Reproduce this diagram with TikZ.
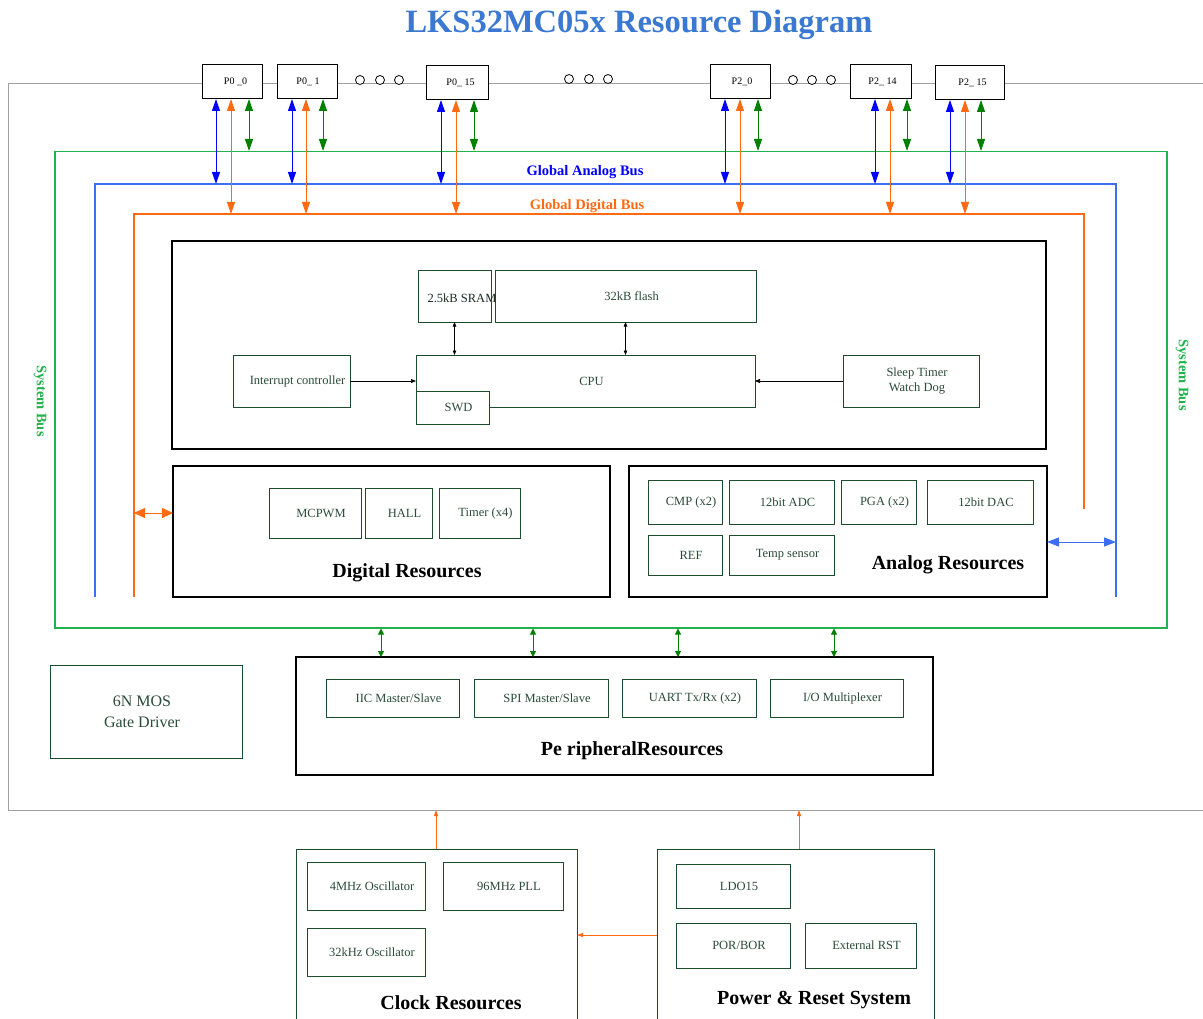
\documentclass[tikz,border=0pt]{standalone}
\usepackage{fontspec}
\setmainfont{Liberation Serif}
\usetikzlibrary{arrows.meta}
\definecolor{sysgreen}{HTML}{22B14C}
\definecolor{abusblue}{HTML}{3B6EF5}
\definecolor{dbusorange}{HTML}{FF6A13}
\definecolor{pinblue}{HTML}{0000FF}
\definecolor{pingreen}{HTML}{008000}
\definecolor{dkgreen}{HTML}{1E4D2E}
\definecolor{txtgreen}{HTML}{2A4B3A}
\definecolor{titleblue}{HTML}{3A78D2}
\definecolor{framegray}{HTML}{A0A0A0}
\newcommand{\bx}[7]{\node[#1,anchor=north west,inner sep=0pt,outer sep=0pt,minimum width={(#4)-(#2)},minimum height={(#5)-(#3)}] (#6) at (#2,#3) {#7};}
\newcommand{\gb}[6]{\bx{gbox}{#1}{#2}{#3}{#4}{#5}{\hspace*{12pt}#6}}
\newcommand{\sh}{\hspace*{12pt}}
\tikzset{
  blk/.style={draw=black,line width=1.5pt},
  gbox/.style={draw=dkgreen,line width=0.9pt,text=txtgreen,fill=white,font=\fontsize{12.5}{14.5}\selectfont,align=center},
  pinbox/.style={draw=black,line width=1pt,fill=white,font=\fontsize{10}{12}\selectfont},
  dotc/.style={circle,draw=black,line width=0.8pt,fill=white,minimum size=9pt,inner sep=0pt},
  biglbl/.style={font=\bfseries\fontsize{20}{22}\selectfont,yshift=-3pt},
  pa/.style={line width=1pt,{Triangle[length=12pt,width=8pt]}-{Triangle[length=12pt,width=8pt]}},
  sa/.style={line width=0.7pt,{Triangle[length=4.5pt,width=3.5pt]}-{Triangle[length=4.5pt,width=3.5pt]}},
  sa1/.style={line width=0.7pt,-{Triangle[length=5pt,width=4pt]}},
  ga/.style={line width=1pt,draw=pingreen,{Triangle[length=6pt,width=6pt]}-{Triangle[length=6pt,width=6pt]}},
  oa/.style={line width=0.9pt,draw=dbusorange,-{Triangle[length=6pt,width=4pt]}},
}
\begin{document}
\begin{tikzpicture}[x=1pt,y=-1pt]
\useasboundingbox (0,0) rectangle (1203,1019);
\clip (0,0) rectangle (1203,1019);
% title
\node[font=\bfseries\fontsize{32.5}{36}\selectfont,text=titleblue] (title) at (639,25) {LKS32MC05x Resource Diagram};
% gray frame
\draw[framegray,line width=1pt] (1210,84) -- (8,84) -- (8,810) -- (1210,810);
\coordinate (fb) at (8,810);
% buses
\node[draw=sysgreen,line width=1.5pt,anchor=north west,inner sep=0pt,minimum width=1112pt,minimum height=476pt] (sysbus) at (54,151) {};
\draw[abusblue,line width=1.5pt] (95,597) -- (95,184) -- (1116,184) -- (1116,597);
\draw[dbusorange,line width=1.5pt] (134,597) -- (134,214) -- (1084,214) -- (1084,509);
\coordinate (gy) at (0,151);
\coordinate (ay) at (0,184);
\coordinate (dy) at (0,214);
\node[font=\bfseries\fontsize{14.5}{16}\selectfont,text=pinblue] (alabel) at (585,172) {Global Analog Bus};
\node[font=\bfseries\fontsize{14.5}{16}\selectfont,text=dbusorange] (dlabel) at (587,206) {Global Digital Bus};
\node[font=\bfseries\fontsize{14.5}{16}\selectfont,text=sysgreen,rotate=-90] (sbl) at (40,401) {System Bus};
\node[font=\bfseries\fontsize{14.5}{16}\selectfont,text=sysgreen,rotate=-90] (sbr) at (1182,375) {System Bus};
% pins
\bx{pinbox}{202}{65}{262}{99}{p00}{\hspace{7pt}P0 \_0}
\bx{pinbox}{277}{65}{337}{99}{p01}{\hspace{2pt}P0\_ 1}
\bx{pinbox}{426}{66}{488}{100}{p015}{\hspace{7pt}P0\_ 15}
\bx{pinbox}{710}{65}{770}{99}{p20}{\hspace{4pt}P2\_0}
\bx{pinbox}{850}{65}{911}{99}{p214}{\hspace{4pt}P2\_ 14}
\bx{pinbox}{935}{66}{1004}{100}{p215}{\hspace{6pt}P2\_ 15}
\node[dotc] (c1) at (360,80) {};
\node[dotc] (c2) at (380,80) {};
\node[dotc] (c3) at (399,80) {};
\node[dotc] (c4) at (569,79) {};
\node[dotc] (c5) at (589,79) {};
\node[dotc] (c6) at (608,79) {};
\node[dotc] (c7) at (793,80) {};
\node[dotc] (c8) at (812,80) {};
\node[dotc] (c9) at (831,80) {};
% pin arrows
\newcommand{\pinarr}[4]{%
\draw[pa,pinblue] ([xshift=#2pt]#1.south) -- ([xshift=#2pt]#1.south |- ay);
\draw[pa,dbusorange] ([xshift=#3pt]#1.south) -- ([xshift=#3pt]#1.south |- dy);
\draw[pa,pingreen] ([xshift=#4pt]#1.south) -- ([xshift=#4pt]#1.south |- gy);}
\pinarr{p00}{-16}{-1}{17}
\pinarr{p01}{-15}{-1}{16}
\pinarr{p015}{-16}{-1}{17}
\pinarr{p20}{-15}{0}{18}
\pinarr{p214}{-5.5}{9.5}{26.5}
\pinarr{p215}{-19.5}{-4.5}{11.5}
% CPU block
\bx{blk}{172}{241}{1046}{449}{cpublk}{}
\bx{gbox}{418}{270}{491}{322}{sram}{}
\node[font=\fontsize{12.5}{14.5}\selectfont,text=txtgreen!60!black] (sramt) at (462,298) {2.5kB SRAM};
\gb{495}{270}{756}{322}{flash}{32kB flash}
\gb{416}{355}{755}{407}{cpu}{CPU}
\gb{416}{391}{489}{424}{swd}{SWD}
\gb{233}{355}{350}{407}{intc}{Interrupt controller}
\bx{gbox}{843}{355}{979}{407}{sleep}{\sh Sleep Timer\\\sh Watch Dog}
\draw[sa] (sram.south) -- (sram.south |- cpu.north);
\draw[sa] (flash.south) -- (flash.south |- cpu.north);
\draw[sa1] (intc.east) -- (cpu.west);
\draw[sa1] (sleep.west) -- (cpu.east);
% Digital resources
\bx{blk}{173}{466}{610}{597}{digblk}{}
\gb{269}{488}{361}{538}{mcpwm}{MCPWM}
\gb{365}{488}{432}{538}{hall}{HALL}
\gb{439}{488}{520}{538}{timer}{Timer (x4)}
\node[biglbl] (digl) at (407,570) {Digital Resources};
\coordinate (dl) at (134,513);
\draw[line width=1pt,dbusorange,{Triangle[length=11pt,width=10pt]}-{Triangle[length=11pt,width=10pt]}] (dl) -- (dl -| digblk.west);
% Analog resources
\bx{blk}{629}{466}{1047}{597}{anablk}{}
\gb{648}{480}{722}{524}{cmp}{CMP (x2)}
\gb{729}{480}{834}{524}{adc}{12bit ADC}
\gb{841}{480}{916}{524}{pga}{PGA (x2)}
\gb{927}{480}{1033}{524}{dac}{12bit DAC}
\gb{648}{535}{722}{575}{ref}{REF}
\gb{729}{535}{834}{575}{temp}{Temp sensor}
\node[biglbl] (anal) at (948,562) {Analog Resources};
\coordinate (ar) at (1116,542);
\draw[line width=1pt,abusblue,{Triangle[length=12pt,width=9pt]}-{Triangle[length=12pt,width=9pt]}] (anablk.east |- ar) -- (ar);
% Peripheral
\bx{blk}{296}{657}{933}{775}{perblk}{}
\gb{326}{679}{459}{717}{iic}{IIC Master/Slave}
\gb{474}{679}{608}{717}{spi}{SPI Master/Slave}
\gb{622}{679}{756}{717}{uart}{UART Tx/Rx (x2)}
\gb{770}{679}{903}{717}{iomux}{I/O Multiplexer}
\node[biglbl] (perl) at (632,748) {Pe ripheralResources};
\draw[ga] ([xshift=-233.5pt]perblk.north |- sysbus.south) -- ([xshift=-233.5pt]perblk.north);
\draw[ga] ([xshift=-81.5pt]perblk.north |- sysbus.south) -- ([xshift=-81.5pt]perblk.north);
\draw[ga] ([xshift=63.5pt]perblk.north |- sysbus.south) -- ([xshift=63.5pt]perblk.north);
\draw[ga] ([xshift=219.5pt]perblk.north |- sysbus.south) -- ([xshift=219.5pt]perblk.north);
% Gate driver
\bx{gbox,font=\fontsize{16}{21}\selectfont}{50}{665}{242}{758}{gate}{\hspace*{-8pt}6N MOS\\\hspace*{-8pt}Gate Driver}
% Clock
\bx{gbox}{296}{849}{577}{1035}{clk}{}
\gb{307}{862}{425}{910}{osc4}{4MHz Oscillator}
\gb{443}{862}{563}{910}{pll}{96MHz PLL}
\gb{307}{928}{425}{976}{osc32}{32kHz Oscillator}
\node[biglbl] (clkl) at (451,1000) {Clock Resources};
% Power
\bx{gbox}{657}{849}{934}{1035}{pwr}{}
\gb{676}{864}{790}{908}{ldo}{LDO15}
\gb{676}{923}{790}{968}{por}{POR/BOR}
\gb{805}{923}{916}{968}{extrst}{External RST}
\node[biglbl] (pwrl) at (814,997) {Power \& Reset System};
\draw[oa] ([xshift=-0.5pt]clk.north) -- ([xshift=-0.5pt]clk.north |- fb);
\draw[oa] ([xshift=3.5pt]pwr.north) -- ([xshift=3.5pt]pwr.north |- fb);
\coordinate (pc) at (617,935);
\draw[oa] (pwr.west |- pc) -- (clk.east |- pc);
\end{tikzpicture}
\end{document}
